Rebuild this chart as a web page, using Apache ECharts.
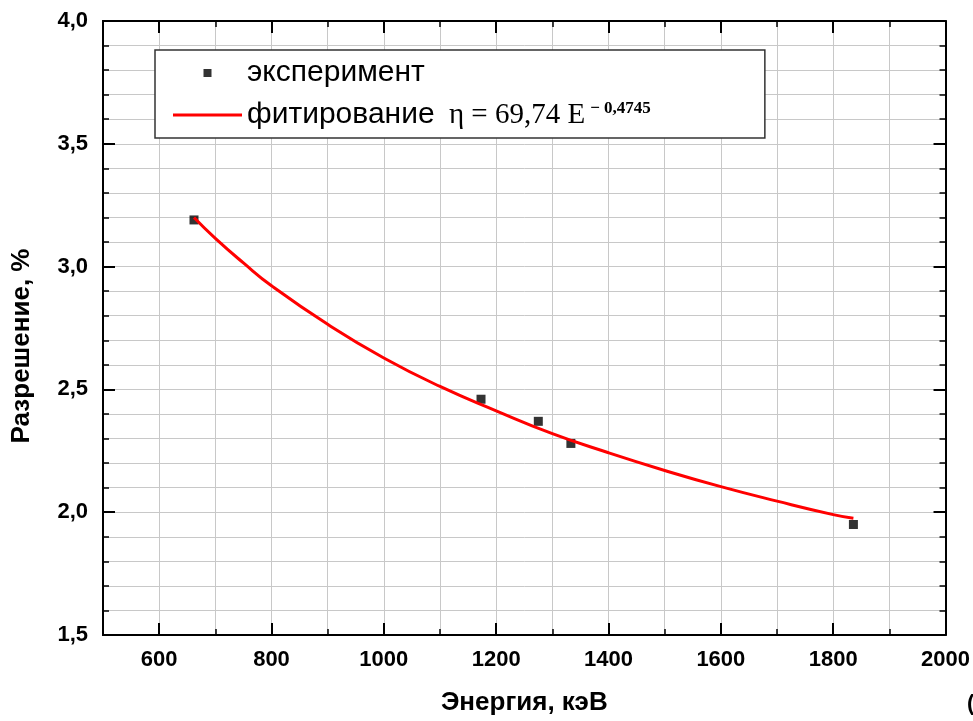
<!DOCTYPE html>
<html>
<head>
<meta charset="utf-8">
<script src="https://cdn.jsdelivr.net/npm/echarts@6/dist/echarts.min.js"></script>
<style>
  html, body { margin: 0; padding: 0; background: #fff; }
  #chart { width: 973px; height: 721px; }
</style>
</head>
<body>
<div id="chart"></div>
<script>
// measured points (energy, keV / resolution, %)
var energy = [662, 1173, 1275, 1333, 1836];
var resolution = [3.19, 2.46, 2.37, 2.28, 1.95];

// fitted curve
var fitEnergy = [662, 700, 750, 800, 900, 1000, 1100, 1200, 1300, 1400, 1500, 1600, 1700, 1800, 1836];
var fitResolution = [3.20, 3.115, 3.015, 2.922, 2.765, 2.628, 2.512, 2.413, 2.32, 2.242, 2.17, 2.104, 2.045, 1.99, 1.975];

var xTickLabels = ['600', '800', '1000', '1200', '1400', '1600', '1800', '2000'];

var chart = echarts.init(document.getElementById('chart'), null, { renderer: 'canvas' });

var FONT = 'Liberation Sans';
var gridColor = '#c8c8c8';

function pairs(xs, ys) {
  return xs.map(function (x, i) { return [x, ys[i]]; });
}

var baseX = {
  type: 'value', min: 500, max: 2000, gridIndex: 0,
  axisLine: { show: true, onZero: false, lineStyle: { color: '#000', width: 2 } },
  axisLabel: { show: false },
  splitLine: { show: false }
};

var option = {
  backgroundColor: '#fff',
  textStyle: { fontFamily: FONT },
  animation: false,
  grid: { left: 103, right: 27, top: 21, bottom: 85, containLabel: false },
  xAxis: [
    Object.assign({}, baseX, {
      position: 'bottom', interval: 100,
      axisTick: { inside: true, length: 6, lineStyle: { color: '#000', width: 1.5 } },
      splitLine: { show: true, lineStyle: { color: gridColor, width: 1 } },
      axisLabel: {
        show: true, margin: 14, color: '#000', fontSize: 22, fontWeight: 'bold', fontFamily: FONT,
        formatter: function (v) { return xTickLabels.indexOf(String(v)) >= 0 ? String(v) : ''; }
      },
      name: 'Энергия, кэВ', nameLocation: 'middle', nameGap: 55, nameMoveOverlap: false,
      nameTextStyle: { color: '#000', fontSize: 26, fontWeight: 'bold', fontFamily: FONT }
    }),
    Object.assign({}, baseX, {
      position: 'bottom', splitNumber: 7,
      axisTick: { inside: true, length: 12, lineStyle: { color: '#000', width: 2 } }
    }),
    Object.assign({}, baseX, {
      position: 'top', interval: 100,
      axisTick: { inside: true, length: 6, lineStyle: { color: '#000', width: 1.5 } }
    }),
    Object.assign({}, baseX, {
      position: 'top', splitNumber: 7,
      axisTick: { inside: true, length: 12, lineStyle: { color: '#000', width: 2 } }
    })
  ],
  yAxis: [
    {
      type: 'value', position: 'left', min: 1.5, max: 4.0, interval: 0.5,
      axisLine: { show: true, onZero: false, lineStyle: { color: '#000', width: 2 } },
      axisTick: { show: true, inside: true, length: 12, lineStyle: { color: '#000', width: 2 } },
      minorTick: { show: true, splitNumber: 5, length: 6, lineStyle: { color: '#000', width: 1.5 } },
      splitLine: { show: true, lineStyle: { color: gridColor, width: 1 } },
      minorSplitLine: { show: true, lineStyle: { color: gridColor, width: 1 } },
      axisLabel: {
        margin: 15, color: '#000', fontSize: 22, fontWeight: 'bold', fontFamily: FONT,
        formatter: function (v) { return v.toFixed(1).replace('.', ','); }
      },
      name: 'Разрешение, %', nameLocation: 'middle', nameGap: 68,
      nameTextStyle: { color: '#000', fontSize: 26, fontWeight: 'bold', fontFamily: FONT, padding: [0, 36, 0, 0] }
    },
    {
      type: 'value', position: 'right', min: 1.5, max: 4.0, interval: 0.5,
      axisLine: { show: true, onZero: false, lineStyle: { color: '#000', width: 2 } },
      axisTick: { show: true, inside: true, length: 12, lineStyle: { color: '#000', width: 2 } },
      minorTick: { show: true, splitNumber: 5, length: 6, lineStyle: { color: '#000', width: 1.5 } },
      splitLine: { show: false },
      axisLabel: { show: false }
    }
  ],
  legend: {
    orient: 'vertical', left: 155, top: 50,
    padding: [8, 114, 8, 18],
    itemWidth: 69, itemHeight: 8, itemGap: 12,
    symbolKeepAspect: true,
    selectedMode: false,
    backgroundColor: '#fff',
    borderColor: '#333', borderWidth: 1.5,
    textStyle: {
      color: '#000', fontSize: 30, fontFamily: FONT,
      rich: {
        f: { fontFamily: 'Liberation Serif', fontSize: 29, color: '#000', padding: [0, 0, 0, 6] },
        s: { fontFamily: 'Liberation Serif', fontSize: 17, fontWeight: 'bold', color: '#000', verticalAlign: 'top', padding: [0, 0, 0, 5] }
      }
    },
    formatter: function (name) {
      if (name === 'фитирование') return 'фитирование {f|η = 69,74 E}{s|− 0,4745}';
      return name;
    },
    data: [
      { name: 'эксперимент', icon: 'path://M0,0H10V10H0Z' },
      { name: 'фитирование', icon: 'path://M0,0H69V3H0Z' }
    ]
  },
  series: [
    {
      name: 'эксперимент', type: 'scatter', xAxisIndex: 0, yAxisIndex: 0,
      symbol: 'rect', symbolSize: 9,
      itemStyle: { color: '#000' },
      data: pairs(energy, resolution)
    },
    {
      name: 'фитирование', type: 'line', xAxisIndex: 0, yAxisIndex: 0,
      smooth: true, showSymbol: false, symbol: 'none',
      lineStyle: { color: '#ff0000', width: 3 },
      itemStyle: { color: '#ff0000' },
      data: pairs(fitEnergy, fitResolution)
    }
  ],
  graphic: [
    {
      type: 'text', left: 967, top: 693,
      style: { text: '(а)', fill: '#000', font: 'bold 22px "Liberation Sans"' }
    }
  ]
};

chart.setOption(option);
</script>
</body>
</html>
